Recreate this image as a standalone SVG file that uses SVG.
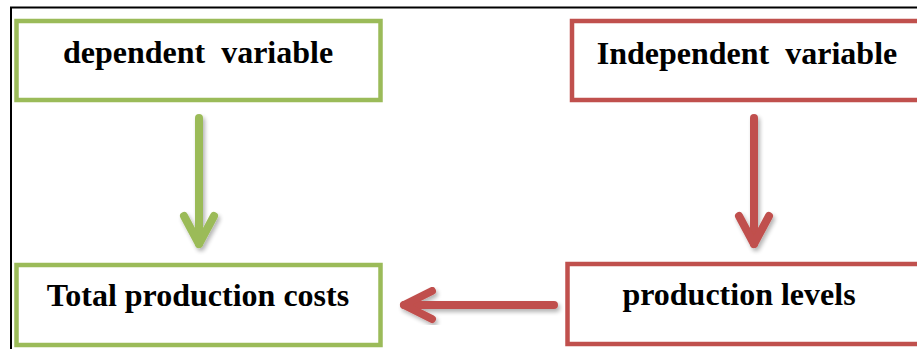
<svg xmlns="http://www.w3.org/2000/svg" width="917" height="349" viewBox="0 0 917 349">
  <style>
    .frame { fill: none; stroke: #000; stroke-width: 2; }
    .box { fill: #fff; stroke-width: 4.5; }
    .green { stroke: #9BBB59; }
    .red { stroke: #C0504D; }
    .label { font-family: "Liberation Serif", "Times New Roman", serif; font-weight: bold; font-size: 32px; fill: #000; text-anchor: middle; white-space: pre; }
    .arrow { fill: none; stroke-width: 8; stroke-linecap: round; stroke-linejoin: round; filter: url(#shadow); }
  </style>
  <defs>
    <filter id="shadow" x="-50%" y="-20%" width="200%" height="140%">
      <feGaussianBlur in="SourceAlpha" stdDeviation="2"/>
      <feOffset dx="1.5" dy="2.5" result="blur"/>
      <feComponentTransfer><feFuncA type="linear" slope="0.3"/></feComponentTransfer>
      <feMerge><feMergeNode/><feMergeNode in="SourceGraphic"/></feMerge>
    </filter>
  </defs>

  <rect width="917" height="349" fill="#fff"/>
  <rect class="frame" x="11" y="7.5" width="920" height="350"/>

  <g id="dependent-variable">
    <rect class="box green" x="16.5" y="21" width="364" height="79"/>
    <text class="label" x="198" y="63">dependent  variable</text>
  </g>

  <g id="independent-variable">
    <rect class="box red" x="572" y="21" width="360" height="79"/>
    <text class="label" x="747" y="64">Independent  variable</text>
  </g>

  <g id="total-production-costs">
    <rect class="box green" x="16.5" y="265" width="364" height="80"/>
    <text class="label" x="198" y="306">Total production costs</text>
  </g>

  <g id="production-levels">
    <rect class="box red" x="567.5" y="264" width="360" height="80"/>
    <text class="label" x="739" y="305">production levels</text>
  </g>

  <g id="connectors">
    <!-- dependent variable -> total production costs -->
    <g class="arrow green">
      <path d="M199 118 V244"/>
      <path d="M184 216 L199 244 L214 216"/>
    </g>
    <!-- independent variable -> production levels -->
    <g class="arrow red">
      <path d="M754 118 V244"/>
      <path d="M739 216 L754 244 L769 216"/>
    </g>
    <!-- production levels -> total production costs -->
    <g class="arrow red">
      <path d="M554 305 H404"/>
      <path d="M432 291 L404 305 L432 319"/>
    </g>
  </g>
</svg>
